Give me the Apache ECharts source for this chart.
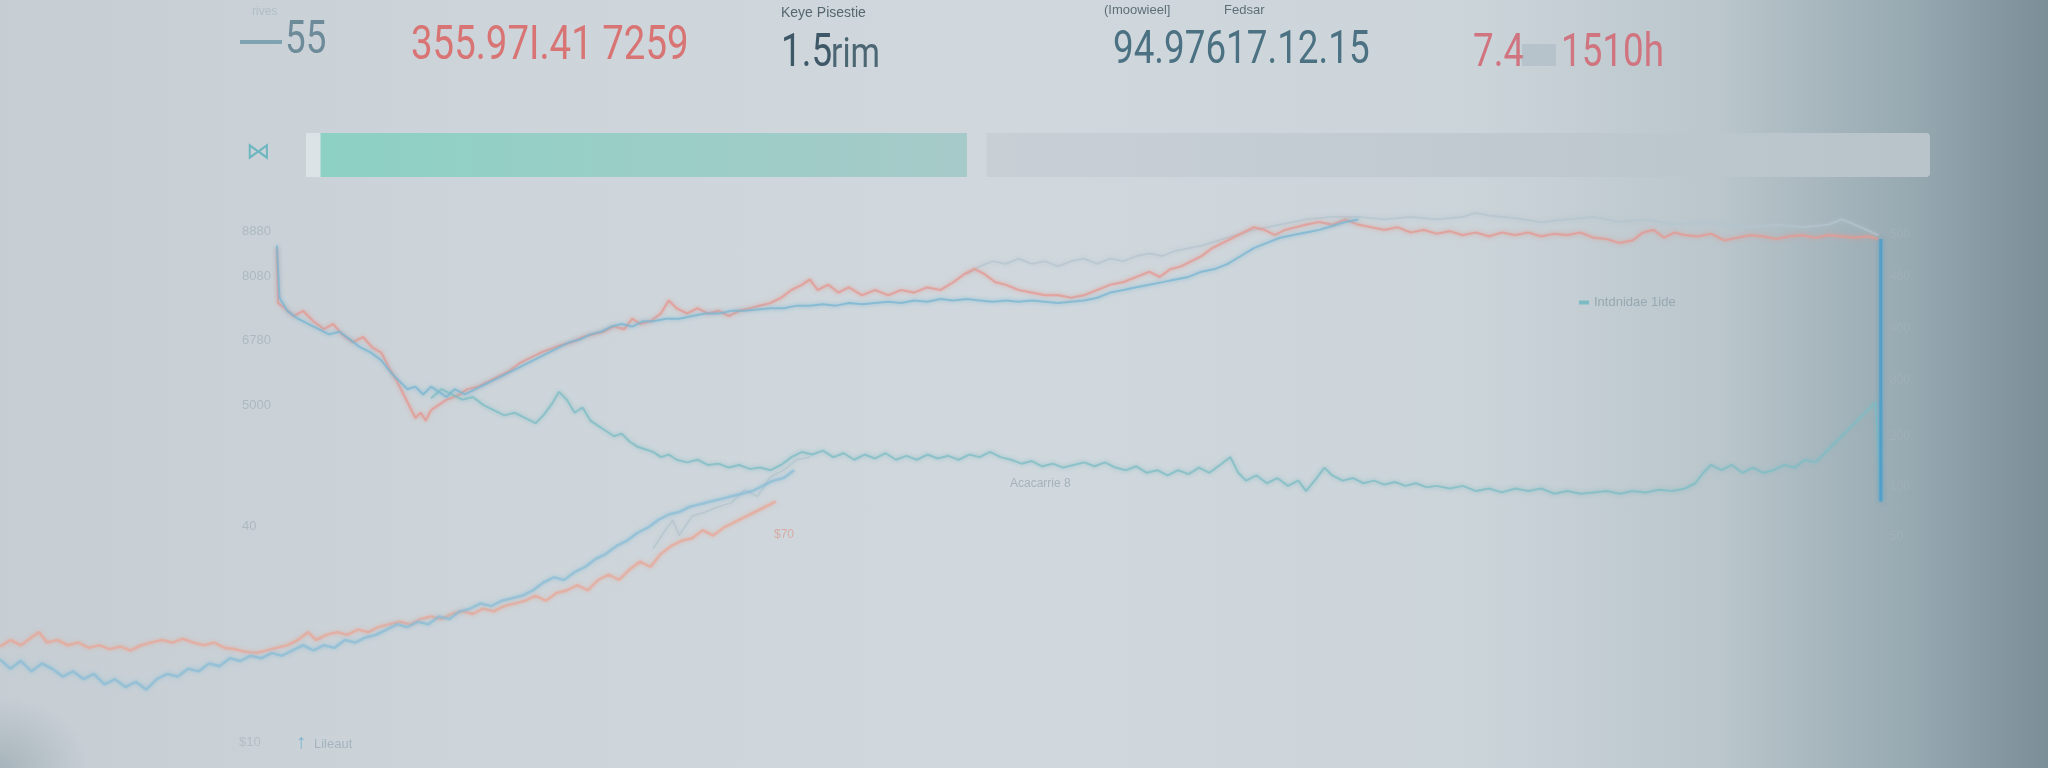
<!DOCTYPE html>
<html>
<head>
<meta charset="utf-8">
<script src="https://cdn.jsdelivr.net/npm/echarts@6/dist/echarts.min.js"></script>
<style>
html,body{margin:0;padding:0;width:2048px;height:768px;overflow:hidden;}
body{
  background:
    radial-gradient(ellipse 90px 70px at 0px 768px, rgba(110,130,140,0.35), rgba(110,130,140,0) 100%),
    linear-gradient(90deg, #c6ced4 0%, #cdd5da 25%, #d0d8dd 50%, #cbd4d9 72%, #bac6cc 84%, #98aab2 93%, #7b8f98 100%);
}
#chart{width:2048px;height:768px;filter:blur(0.6px);}
</style>
</head>
<body>
<div id="chart"></div>
<script>
// ---------- DATA ----------
const headerLabels = ["rives", "Keye Pisestie", "(Imoowieel]", "Fedsar"];
const headerValues = ["55", "355.97I.41 7259", "1.5", "rim", "94.97617.12.15", "7.4", "1510h"];
const leftTicks = ["8880", "8080", "6780", "5000", "40"];
const rightTicks = ["500", "460", "400", "300", "200", "100", "50"];
const progressParts = [0.9, 39.8, 1.2, 58.1];
const progressTexts = ["(Lowe)", "520 250"];
const legendName = "Intdnidae 1ide";
const noteTexts = ["Acacarrie 8", "$70", "$10", "Lileaut"];

const upperRed = [[21.2,3980],[21.3,3560],[21.8,3520],[22.5,3460],[23.2,3500],[24.0,3420],[24.8,3360],[25.5,3400],[26.2,3320],[27,3260],[27.8,3300],[28.5,3220],[29.2,3180],[29.8,3060],[30.4,2960],[31,2840],[31.4,2760],[31.8,2680],[32.2,2720],[32.6,2660],[33,2740],[33.6,2780],[34.2,2820],[35,2850],[35.8,2900],[36.6,2920],[37.4,2960],[38.2,3000],[39,3040],[39.8,3100],[40.6,3140],[41.4,3180],[42.2,3210],[43,3240],[43.8,3260],[44.6,3300],[45.4,3320],[46.2,3340],[47,3380],[47.8,3360],[48.4,3440],[49,3400],[49.8,3420],[50.6,3480],[51.2,3580],[51.8,3520],[52.6,3480],[53.4,3520],[54.2,3480],[55,3500],[55.8,3460],[56.6,3500],[57.4,3520],[58.2,3540],[59,3560],[59.8,3600],[60.6,3660],[61.4,3700],[62,3740],[62.6,3660],[63.4,3700],[64.2,3640],[65,3680],[66,3620],[67,3660],[68,3620],[69,3660],[70,3640],[71,3680],[72,3660],[73,3720],[73.8,3780],[74.6,3820],[75.4,3780],[76.2,3720],[77,3700],[78,3660],[79,3640],[80,3620],[81,3620],[82,3600],[83,3620],[84,3660],[85,3700],[86,3720],[87,3760],[88,3800],[88.8,3760],[89.6,3820],[90.4,3840],[91.2,3880],[92,3920],[92.8,3980],[93.6,4020],[94.4,4060],[95.2,4100],[96,4140],[96.8,4120],[97.6,4080],[98.4,4120],[99.2,4140],[100,4160],[101,4180],[102,4160],[103,4200],[104,4160],[105,4140],[106,4120],[107,4140],[108,4100],[109,4120],[110,4090],[111,4110],[112,4080],[113,4100],[114,4070],[115,4100],[116,4080],[117,4100],[118,4070],[119,4090],[120,4080],[121,4100],[122,4060],[123,4050],[124,4020],[125,4040],[125.8,4100],[126.6,4120],[127.4,4060],[128.2,4100],[129,4080],[130,4070],[131,4090],[132,4040],[133,4060],[134,4080],[135,4070],[136,4050],[137,4070],[138,4080],[139,4060],[140,4080],[141,4070],[142,4060],[143,4070],[143.8,4050]];

const upperBlue = [[21.2,4000],[21.4,3600],[22,3500],[22.8,3440],[23.6,3400],[24.4,3360],[25.2,3320],[26,3340],[26.8,3280],[27.6,3220],[28.4,3180],[29.2,3120],[30,3020],[30.6,2960],[31.2,2900],[31.8,2920],[32.4,2860],[33,2920],[33.6,2880],[34.2,2840],[34.8,2900],[35.6,2860],[36.4,2900],[37.2,2940],[38,2980],[38.8,3020],[39.6,3060],[40.4,3100],[41.2,3140],[42,3180],[42.8,3220],[43.6,3260],[44.4,3280],[45.2,3320],[46,3340],[46.8,3380],[47.6,3400],[48.4,3380],[49.2,3420],[50,3420],[51,3440],[52,3440],[53,3460],[54,3480],[55,3480],[56,3500],[57,3500],[58,3510],[59,3520],[60,3520],[61,3540],[62,3540],[63,3550],[64,3540],[65,3560],[66,3550],[67,3560],[68,3570],[69,3560],[70,3580],[71,3570],[72,3590],[73,3580],[74,3590],[75,3580],[76,3570],[77,3580],[78,3570],[79,3580],[80,3570],[81,3560],[82,3570],[83,3580],[84,3600],[85,3640],[86,3660],[87,3680],[88,3700],[89,3720],[90,3740],[91,3760],[92,3800],[93,3820],[94,3860],[95,3920],[96,3980],[97,4020],[98,4060],[99,4080],[100,4100],[101,4120],[102,4150],[103,4180],[104,4200]];

const upperGrey = [[74,3780],[75,3840],[76,3880],[77,3860],[78,3900],[79,3860],[80,3880],[81,3840],[82,3880],[83,3900],[84,3860],[85,3900],[86,3880],[87,3920],[88,3940],[89,3920],[90,3960],[92,4000],[94,4060],[96,4120],[98,4160],[100,4200],[102,4220],[104,4220],[106,4200],[108,4220],[110,4200],[112,4220],[113,4250],[114,4230],[116,4210],[118,4180],[120,4200],[122,4220],[124,4180],[126,4200],[128,4160],[130,4180],[132,4160],[134,4140],[136,4160],[138,4140],[140,4160],[141,4200],[142,4160],[143.8,4080]];

const lowerTeal = [[33,2830],[33.8,2900],[34.6,2860],[35.4,2820],[36.2,2840],[37,2780],[37.8,2740],[38.6,2700],[39.4,2720],[40.2,2680],[41,2640],[41.6,2700],[42.2,2780],[42.8,2880],[43.4,2820],[44,2720],[44.6,2760],[45.2,2660],[45.8,2620],[46.4,2580],[47,2540],[47.6,2560],[48.2,2500],[48.8,2460],[49.4,2440],[50,2420],[50.6,2380],[51.2,2400],[51.8,2360],[52.6,2340],[53.4,2360],[54.2,2320],[55,2330],[55.8,2300],[56.6,2320],[57.4,2290],[58.2,2300],[59,2280],[59.8,2320],[60.6,2380],[61.4,2420],[62.2,2400],[63,2430],[63.8,2380],[64.6,2410],[65.4,2360],[66.2,2400],[67,2370],[67.8,2410],[68.6,2360],[69.4,2390],[70.2,2360],[71,2400],[71.8,2370],[72.6,2390],[73.4,2360],[74.2,2400],[75,2380],[75.8,2420],[76.6,2380],[77.4,2360],[78.2,2330],[79,2350],[79.8,2310],[80.6,2330],[81.4,2300],[82.2,2320],[83,2340],[83.8,2310],[84.6,2340],[85.4,2300],[86.2,2280],[87,2310],[87.8,2260],[88.6,2280],[89.4,2240],[90.2,2280],[91,2250],[91.8,2300],[92.6,2260],[93.4,2320],[94.2,2380],[94.8,2260],[95.4,2200],[96.2,2240],[97,2180],[97.8,2220],[98.6,2160],[99.4,2200],[100,2120],[100.8,2220],[101.4,2300],[102,2240],[102.8,2200],[103.6,2220],[104.4,2180],[105.2,2200],[106,2170],[106.8,2190],[107.6,2160],[108.4,2180],[109.2,2150],[110,2160],[111,2140],[112,2160],[113,2120],[114,2140],[115,2110],[116,2140],[117,2120],[118,2140],[119,2100],[120,2120],[121,2100],[122,2110],[123,2120],[124,2100],[125,2120],[126,2110],[127,2130],[128,2120],[129,2140],[129.8,2180],[130.4,2260],[131,2320],[131.8,2280],[132.6,2320],[133.4,2260],[134.2,2300],[135,2260],[135.8,2280],[136.6,2320],[137.4,2300],[138.2,2360],[139,2340],[139.8,2420],[140.4,2480],[141,2540],[141.6,2600],[142.2,2660],[142.8,2720],[143.2,2760],[143.6,2800],[143.8,2480],[144,2040]];

const endSpike = [[144,4050],[144,2040]];

const lowerRed = [[0,930],[0.8,980],[1.6,940],[2.4,1000],[3,1040],[3.6,960],[4.4,980],[5.2,940],[6,960],[6.8,920],[7.6,940],[8.4,910],[9.2,930],[10,900],[10.8,940],[11.6,960],[12.4,980],[13.2,960],[14,990],[14.8,960],[15.6,940],[16.4,960],[17.2,920],[18,910],[18.8,890],[19.6,880],[20.4,900],[21.2,920],[22,940],[22.8,980],[23.6,1040],[24.2,980],[25,1020],[25.8,1040],[26.6,1020],[27.4,1060],[28.2,1040],[29,1080],[29.8,1100],[30.6,1120],[31.4,1100],[32.2,1140],[33,1160],[33.8,1140],[34.6,1180],[35.4,1200],[36.2,1180],[37,1220],[37.8,1200],[38.6,1240],[39.4,1260],[40.2,1280],[41,1320],[41.8,1280],[42.6,1340],[43.4,1360],[44.2,1400],[45,1360],[45.8,1440],[46.6,1480],[47.4,1440],[48.2,1520],[49,1580],[49.8,1540],[50.6,1640],[51.4,1700],[52.2,1740],[53,1760],[53.8,1820],[54.6,1780],[55.4,1840],[56.2,1880],[57,1920],[57.8,1960],[58.6,2000],[59.4,2040]];

const lowerBlue = [[0,830],[0.8,760],[1.6,820],[2.4,740],[3.2,800],[4,760],[4.8,700],[5.6,740],[6.4,680],[7.2,720],[8,640],[8.8,680],[9.6,620],[10.4,660],[11.2,600],[12,680],[12.8,720],[13.6,700],[14.4,760],[15.2,740],[16,800],[16.8,780],[17.6,840],[18.4,820],[19.2,860],[20,840],[20.8,880],[21.6,860],[22.4,900],[23.2,940],[24,900],[24.8,940],[25.6,920],[26.4,980],[27.2,960],[28,1000],[28.8,1020],[29.6,1060],[30.4,1100],[31.2,1080],[32,1120],[32.8,1100],[33.6,1160],[34.4,1140],[35.2,1200],[36,1220],[36.8,1260],[37.6,1240],[38.4,1280],[39.2,1300],[40,1320],[40.8,1360],[41.6,1420],[42.4,1460],[43.2,1440],[44,1500],[44.8,1540],[45.6,1600],[46.4,1640],[47.2,1700],[48,1740],[48.8,1800],[49.6,1840],[50.4,1900],[51.2,1940],[52,1960],[52.8,2000],[53.6,2020],[54.4,2040],[55.2,2060],[56,2080],[56.8,2100],[57.6,2120],[58.4,2160],[59.2,2200],[60,2220],[60.8,2280]];

const lowerGrey = [[50,1680],[51,1830],[51.5,1900],[52,1780],[53,1930],[54,1960],[55,2000],[56,2030],[57,2130],[58,2080],[59,2230],[60,2280],[61,2360],[62,2380]];

// ---------- CHART ----------
const chart = echarts.init(document.getElementById('chart'), null, {renderer:'canvas'});
const numFont = 'Roboto, "Liberation Sans", sans-serif';
const smallFont = '"Liberation Sans", "DejaVu Sans", sans-serif';

function txt(x, y, text, size, fill, family, opacity, sx){
  return {type:'text', x:x, y:y, scaleX:(sx||1),
    style:{text:text, fill:fill, fontSize:size, fontFamily:family||numFont, verticalAlign:'middle', opacity:(opacity==null?1:opacity)}};
}
const NS = 0.8; // condensed look of the header figures

const graphics = [
  txt(252, 12, headerLabels[0], 12, '#9fb0b9', smallFont, 0.6),
  {type:'rect', shape:{x:240, y:40, width:42, height:4}, style:{fill:'#7fa3b1'}},
  txt(285, 41, headerValues[0], 46, '#6e8b99', null, 1, NS),
  txt(411, 47, headerValues[1], 48, '#d97474', null, 1, NS),
  txt(781, 13, headerLabels[1], 14, '#55666f', smallFont),
  txt(781, 54, headerValues[2], 46, '#3f5868', null, 1, NS),
  txt(831, 56, headerValues[3], 42, '#4d6674', null, 1, NS),
  txt(1104, 10, headerLabels[2], 13, '#5e6e77', smallFont),
  txt(1224, 10, headerLabels[3], 13, '#5e6e77', smallFont),
  txt(1113, 51, headerValues[4], 46, '#4b7183', null, 1, NS),
  txt(1473, 54, headerValues[5], 46, '#d07480', null, 1, NS),
  {type:'rect', shape:{x:1522, y:44, width:34, height:22}, style:{fill:'#aab8c2', opacity:0.55}},
  txt(1561, 54, headerValues[6], 46, '#d07480', null, 1, NS),
  txt(246, 152, '\u22C8', 24, '#6fb7c0', smallFont),
  txt(1737, 170, progressTexts[0], 13, '#9aa6ad', smallFont, 0.6),
  txt(1820, 170, progressTexts[1], 13, '#9aa6ad', smallFont, 0.6),
  txt(1010, 484, noteTexts[0], 12, '#9aa9b0', smallFont, 0.8),
  txt(774, 535, noteTexts[1], 12, '#d9a099', smallFont, 0.8),
  txt(239, 742, noteTexts[2], 13, '#a9b5bb', smallFont, 0.7),
  txt(296, 742, '\u2191', 20, '#6aaed0', smallFont, 0.8),
  txt(314, 744, noteTexts[3], 13, '#93a6b0', smallFont, 0.7)
];
const leftTickY = [231, 276, 340, 405, 526];
leftTicks.forEach((t, i) => graphics.push(txt(242, leftTickY[i], t, 13, '#a3b0b8', smallFont, 0.75)));
const rightTickY = [235, 277, 329, 381, 437, 487, 537];
rightTicks.forEach((t, i) => graphics.push(txt(1890, rightTickY[i], t, 12, '#a8b4ba', smallFont, 0.6)));

function lineSeries(name, data, color, width, opacity, z){
  return {
    name:name, type:'line', data:data, xAxisIndex:0, yAxisIndex:0,
    showSymbol:false, symbol:'none', smooth:false, z:z||2,
    lineStyle:{color:color, width:width, opacity:opacity, shadowColor:color, shadowBlur:4},
    itemStyle:{color:color}, silent:true, animation:false
  };
}

const option = {
  backgroundColor:'transparent',
  animation:false,
  graphic:graphics,
  legend:{
    show:true, left:1574, top:291, data:[legendName],
    icon:'rect', itemWidth:10, itemHeight:4,
    textStyle:{color:'#97a8b1', fontSize:13, fontFamily:smallFont}
  },
  grid:[
    {left:0, right:0, top:0, bottom:0, containLabel:false},
    {left:306, top:132, width:1624, height:46, containLabel:false}
  ],
  xAxis:[
    {type:'value', gridIndex:0, min:0, max:156.8, show:false},
    {type:'value', gridIndex:1, min:0, max:100, show:false}
  ],
  yAxis:[
    {type:'value', gridIndex:0, min:0, max:5880, show:false},
    {type:'category', gridIndex:1, data:['progress'], show:false}
  ],
  series:[
    lineSeries('grey-lower', lowerGrey, '#aebfca', 1.5, 0.6, 1),
    lineSeries('red-lower', lowerRed, '#eaa594', 2.6, 0.65, 2),
    lineSeries('blue-lower', lowerBlue, '#86bcd6', 2.6, 0.65, 2),
    lineSeries('grey-upper', upperGrey, '#b4c4cd', 1.8, 0.75, 1),
    lineSeries('red-upper', upperRed, '#e49a93', 2.2, 0.75, 3),
    lineSeries('blue-upper', upperBlue, '#78b6d2', 2, 0.75, 3),
    lineSeries(legendName, lowerTeal, '#7dbcc4', 2, 0.75, 3),
    lineSeries('spike', endSpike, '#4f9fcb', 3, 0.9, 4),
    {type:'bar', xAxisIndex:1, yAxisIndex:1, stack:'p', data:[progressParts[0]], barWidth:44, itemStyle:{color:'#dce3e6'}, silent:true},
    {type:'bar', xAxisIndex:1, yAxisIndex:1, stack:'p', data:[progressParts[1]], barWidth:44,
      itemStyle:{color:{type:'linear', x:0, y:0, x2:1, y2:0, colorStops:[{offset:0, color:'#8dd1c4'},{offset:1, color:'#a6cac9'}]}}, silent:true},
    {type:'bar', xAxisIndex:1, yAxisIndex:1, stack:'p', data:[progressParts[2]], barWidth:44, itemStyle:{color:'rgba(0,0,0,0)'}, silent:true},
    {type:'bar', xAxisIndex:1, yAxisIndex:1, stack:'p', data:[progressParts[3]], barWidth:44,
      itemStyle:{color:{type:'linear', x:0, y:0, x2:1, y2:0, colorStops:[{offset:0, color:'#c8d0d6'},{offset:1, color:'#b8c4ca'}]}, borderRadius:[0,4,4,0]}, silent:true}
  ]
};
chart.setOption(option);
</script>
</body>
</html>
